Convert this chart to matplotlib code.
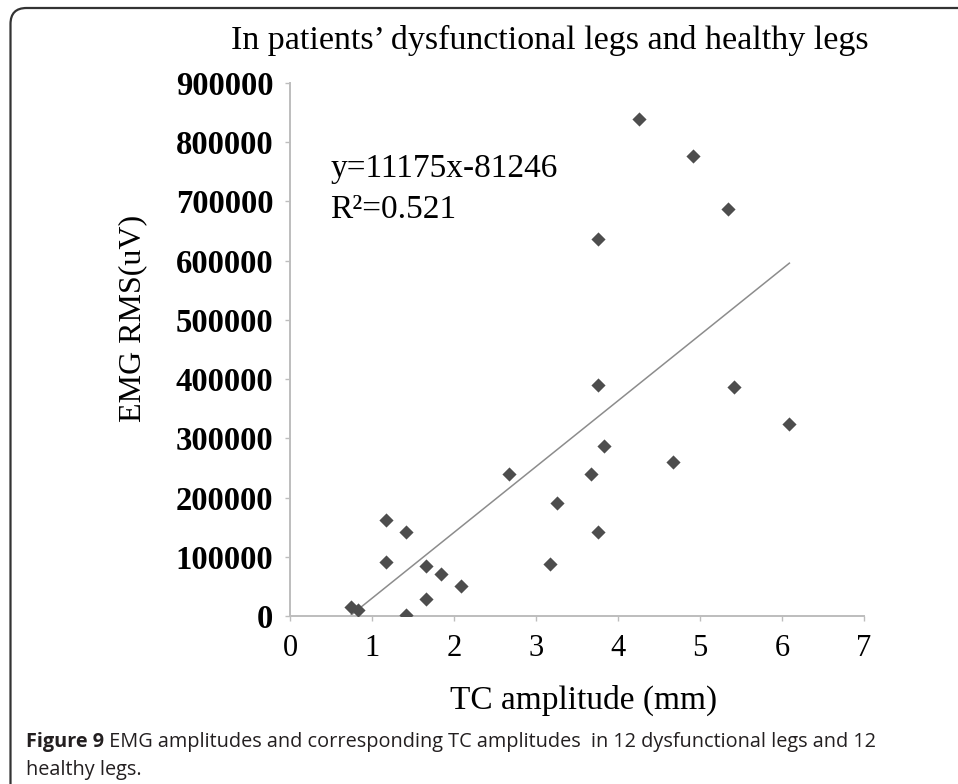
import numpy as np
import matplotlib
matplotlib.use("Agg")
import matplotlib.pyplot as plt
from matplotlib.path import Path
from matplotlib.patches import PathPatch

# ---- data ----
tc_amplitude = [4.25, 4.92, 5.34, 3.75, 3.75, 5.42, 6.09, 3.83, 4.67, 2.67, 3.67, 3.25,
                3.75, 1.165, 1.417, 1.165, 3.17, 1.66, 1.84, 2.09, 1.66, 0.74, 0.83, 1.417]
emg_rms = [839000, 776000, 687000, 636000, 390000, 386000, 324000, 287000, 260000, 240000,
           240000, 190000, 142000, 161500, 142000, 92000, 87000, 85000, 71000, 50500,
           29000, 14500, 10500, 1000]
trend_slope = 111175
trend_intercept = -81246
x_ticks = [0, 1, 2, 3, 4, 5, 6, 7]
y_ticks = [0, 100000, 200000, 300000, 400000, 500000, 600000, 700000, 800000, 900000]
title = "In patients\u2019 dysfunctional legs and healthy legs"
x_label = "TC amplitude (mm)"
y_label = "EMG RMS(uV)"
eq_text = "y=11175x-81246"
r2_text = "R\u00b2=0.521"
caption_bold = "Figure 9"
caption_rest = " EMG amplitudes and corresponding TC amplitudes  in 12 dysfunctional legs and 12"
caption_line2 = "healthy legs."

W, H = 958, 784
fig = plt.figure(figsize=(W / 100, H / 100), dpi=100)
serif = "Liberation Serif"

ax = fig.add_axes([290 / W, 1 - 616 / H, (864 - 290) / W, (616 - 83) / H])
ax.scatter(tc_amplitude, emg_rms, marker="D", s=52, color="#4d4d4d", zorder=3, linewidths=0)
xs = np.array([min(tc_amplitude), max(tc_amplitude)])
ax.plot(xs, trend_slope * xs + trend_intercept, color="#8c8c8c", lw=1.1, zorder=2)

ax.set_xlim(x_ticks[0], x_ticks[-1])
ax.set_ylim(y_ticks[0], y_ticks[-1])
ax.set_xticks(x_ticks)
ax.set_yticks(y_ticks)
ax.set_xticklabels([str(t) for t in x_ticks], fontfamily=serif, fontsize=22)
ax.set_yticklabels([str(t) for t in y_ticks], fontfamily=serif, fontsize=23.5, fontweight="bold")
for s in ["top", "right"]:
    ax.spines[s].set_visible(False)
for s in ["left", "bottom"]:
    ax.spines[s].set_color("#bdbdbd")
    ax.spines[s].set_linewidth(1.4)
ax.tick_params(axis="both", direction="out", length=3.6, width=1.0, color="#bdbdbd")
ax.tick_params(axis="y", pad=8.5)
ax.tick_params(axis="x", pad=9)

ax.text(0.07, 0.839, eq_text, transform=ax.transAxes, fontfamily=serif, fontsize=24,
        va="center", ha="left")
ax.text(0.07, 0.763, r2_text, transform=ax.transAxes, fontfamily=serif, fontsize=24,
        va="center", ha="left")

fig.text(550 / W, 1 - 40 / H, title, fontfamily=serif, fontsize=24.5, ha="center", va="center")
fig.text(584 / W, 1 - 700 / H, x_label, fontfamily=serif, fontsize=24, ha="center", va="center")
fig.text(133 / W, 1 - 318 / H, y_label, fontfamily=serif, fontsize=23, ha="center",
         va="center", rotation=90)

# caption
cap_size = 14.3
t1 = fig.text(26 / W, 1 - 747 / H, caption_bold, fontfamily="Open Sans", fontsize=cap_size,
              fontweight="bold", color="#231f20", ha="left", va="baseline")
fig.canvas.draw()
bb = t1.get_window_extent()
fig.text(bb.x1 / W, 1 - 747 / H, caption_rest, fontfamily="Open Sans", fontsize=cap_size,
         color="#231f20", ha="left", va="baseline")
fig.text(26 / W, 1 - 775 / H, caption_line2, fontfamily="Open Sans", fontsize=cap_size,
         color="#231f20", ha="left", va="baseline")

# border (top and left with rounded corner)
x0, y0, r = 10.5, 8.0, 16
verts = [(x0 / W, 0), (x0 / W, 1 - (y0 + r) / H), (x0 / W, 1 - y0 / H),
         ((x0 + r) / W, 1 - y0 / H), (1, 1 - y0 / H)]
codes = [Path.MOVETO, Path.LINETO, Path.CURVE3, Path.CURVE3, Path.LINETO]
fig.add_artist(PathPatch(Path(verts, codes), transform=fig.transFigure, fill=False,
                         edgecolor="#333333", lw=1.6))

fig.savefig("out.png", dpi=100)
